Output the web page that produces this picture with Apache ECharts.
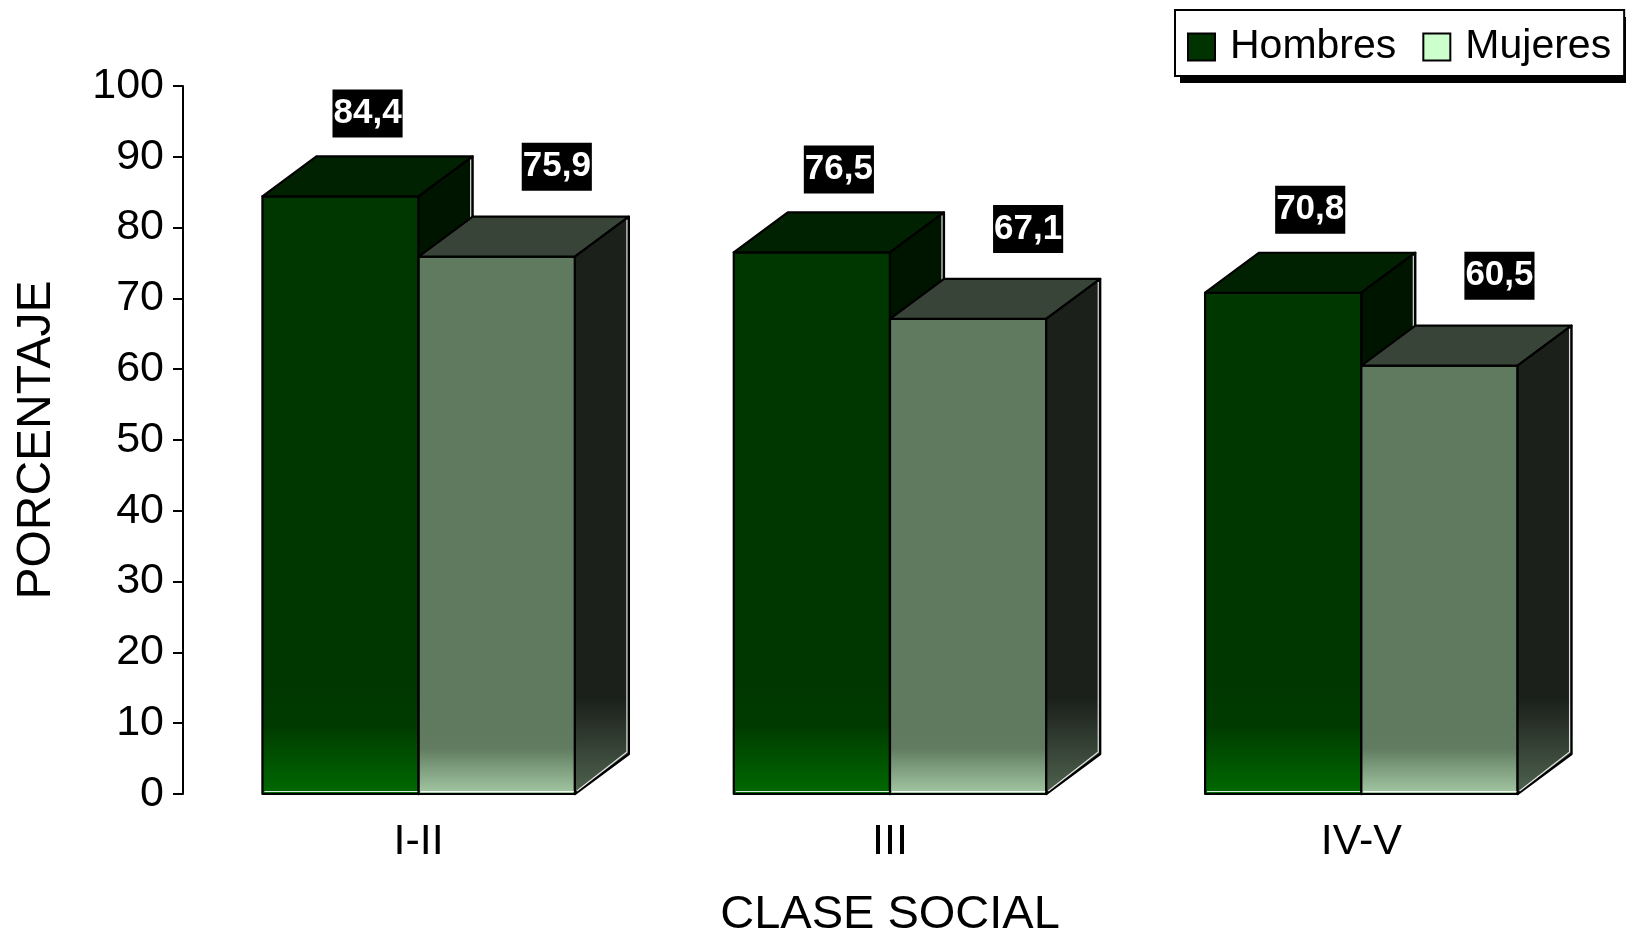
<!DOCTYPE html>
<html>
<head>
<meta charset="utf-8">
<script src="https://cdn.jsdelivr.net/npm/echarts@6/dist/echarts.min.js"></script>
<style>
  html, body { margin: 0; padding: 0; background: #fff; }
  #chart { width: 1626px; height: 935px; }
</style>
</head>
<body>
<div id="chart"></div>
<script>
// Porcentaje por clase social y sexo
const categories = ['I-II', 'III', 'IV-V'];
const hombres = [84.4, 76.5, 70.8];
const mujeres = [75.9, 67.1, 60.5];
const yTicks = { min: 0, max: 100, interval: 10 };

const FONT = '"Liberation Sans", Arial, Helvetica, sans-serif';
const DEPTH = { dx: 54, dy: -40 };       // 3D box depth offset in pixels
const BAR_FRACTION = 0.3315;              // width of one bar relative to the category band

const palette = {
  Hombres: {
    front: ['#003700', '#003b00', '#006a00'],
    frontSpan: 105,
    top: '#002200',
    side: ['#001500', '#001500'],
    label: { dx: 27, dy: -83 },
    legend: '#003300'
  },
  Mujeres: {
    front: ['#5f7a5f', '#617c61', '#a3c8a3'],
    frontSpan: 70,
    top: '#394439',
    side: ['#1b201b', '#4a5c4a'],
    label: { dx: 60, dy: -90 },
    legend: '#ccffcc'
  }
};

function fmt(v) {
  return v.toFixed(1).replace('.', ',');
}

function makeRenderer(name) {
  const pal = palette[name];
  const isFirst = name === 'Hombres';
  return function (params, api) {
    const cat = api.value(0);
    const val = api.value(1);
    const band = api.size([1, 0])[0];
    const bw = band * BAR_FRACTION;
    const base = api.coord([cat, 0]);
    const topPt = api.coord([cat, val]);
    const cx = base[0];
    const x0 = isFirst ? cx - bw : cx;
    const x1 = x0 + bw;
    const y0 = base[1];
    const y1 = topPt[1];
    const dx = DEPTH.dx, dy = DEPTH.dy;

    const frontFill = new echarts.graphic.LinearGradient(0, y0 - pal.frontSpan, 0, y0, [
      { offset: 0, color: pal.front[0] },
      { offset: 0.35, color: pal.front[1] },
      { offset: 1, color: pal.front[2] }
    ], true);
    const sideFill = new echarts.graphic.LinearGradient(0, y0 - 95, 0, y0 - 10, [
      { offset: 0, color: pal.side[0] },
      { offset: 1, color: pal.side[1] }
    ], true);
    const edge = { stroke: '#000', lineWidth: 2.2, lineJoin: 'round' };

    return {
      type: 'group',
      children: [
        {
          type: 'rect',
          shape: { x: x0, y: y1, width: bw, height: y0 - y1 },
          style: Object.assign({ fill: frontFill }, edge)
        },
        {
          type: 'polygon',
          shape: { points: [[x0, y1], [x0 + dx, y1 + dy], [x1 + dx, y1 + dy], [x1, y1]] },
          style: Object.assign({ fill: pal.top }, edge)
        },
        {
          type: 'polygon',
          shape: { points: [[x1, y1], [x1 + dx, y1 + dy], [x1 + dx, y0 + dy], [x1, y0]] },
          style: Object.assign({ fill: sideFill }, edge)
        },
        // thin highlights along the lower edges
        {
          type: 'polyline',
          shape: { points: [[x0 + 2, y0 - 2.5], [x1 - 1, y0 - 2.5]] },
          style: { stroke: 'rgba(255,255,255,0.85)', lineWidth: 1.2, fill: null }
        },
        {
          type: 'polyline',
          shape: { points: [[x1 + 2, y0 - 3], [x1 + dx - 2, y0 + dy - 2], [x1 + dx - 2, y1 + dy + 3]] },
          style: { stroke: 'rgba(255,255,255,0.85)', lineWidth: 1.2, fill: null }
        },
        {
          type: 'text',
          z2: 50,
          style: {
            text: fmt(val),
            x: (x0 + x1) / 2 + pal.label.dx,
            y: y1 + pal.label.dy,
            align: 'center',
            verticalAlign: 'middle',
            fill: '#fff',
            font: 'bold 35px ' + FONT,
            lineHeight: 38,
            backgroundColor: '#000',
            padding: [5, 1, 5, 1]
          }
        }
      ]
    };
  };
}

const chart = echarts.init(document.getElementById('chart'), null, { renderer: 'canvas' });

chart.setOption({
  animation: false,
  backgroundColor: '#fff',
  textStyle: { fontFamily: FONT, color: '#000' },
  grid: { left: 183, right: 29, top: 86, bottom: 141, containLabel: false, outerBoundsMode: 'none' },
  // solid drop shadow behind the legend frame
  graphic: [
    {
      type: 'rect',
      z: 1,
      silent: true,
      shape: { x: 1180, y: 17, width: 446, height: 66 },
      style: { fill: '#000' }
    }
  ],
  legend: {
    left: 1175,
    top: 10,
    z: 5,
    padding: [14, 13, 6, 12],
    itemWidth: 27,
    itemHeight: 27,
    itemGap: 26,
    backgroundColor: '#fff',
    borderColor: '#000',
    borderWidth: 2,
    textStyle: { fontSize: 41, color: '#000', fontFamily: FONT, padding: [0, 0, 0, 10], lineHeight: 46 },
    data: [
      { name: 'Hombres', icon: 'rect', itemStyle: { color: palette.Hombres.legend, borderColor: '#000', borderWidth: 2 } },
      { name: 'Mujeres', icon: 'rect', itemStyle: { color: palette.Mujeres.legend, borderColor: '#000', borderWidth: 2 } }
    ]
  },
  xAxis: {
    type: 'category',
    data: categories,
    name: 'CLASE SOCIAL',
    nameLocation: 'middle',
    nameGap: 98,
    nameTextStyle: { fontSize: 47, color: '#000', fontFamily: FONT },
    axisLine: { show: false },
    axisTick: { show: false },
    axisLabel: { fontSize: 43, color: '#000', margin: 27, fontFamily: FONT },
    splitLine: { show: false }
  },
  yAxis: {
    type: 'value',
    min: yTicks.min,
    max: yTicks.max,
    interval: yTicks.interval,
    name: 'PORCENTAJE',
    nameLocation: 'middle',
    nameGap: 122,
    nameTextStyle: { fontSize: 48, color: '#000', fontFamily: FONT },
    axisLine: { show: true, lineStyle: { color: '#000', width: 2 } },
    axisTick: { show: true, length: 10, lineStyle: { color: '#000', width: 2 } },
    axisLabel: { fontSize: 43, color: '#000', margin: 19, fontFamily: FONT },
    splitLine: { show: false }
  },
  series: [
    {
      name: 'Hombres',
      type: 'custom',
      renderItem: makeRenderer('Hombres'),
      itemStyle: { color: palette.Hombres.legend },
      encode: { x: 0, y: 1 },
      data: hombres.map((v, i) => [i, v])
    },
    {
      name: 'Mujeres',
      type: 'custom',
      renderItem: makeRenderer('Mujeres'),
      itemStyle: { color: palette.Mujeres.legend },
      encode: { x: 0, y: 1 },
      data: mujeres.map((v, i) => [i, v])
    }
  ]
});
</script>
</body>
</html>
